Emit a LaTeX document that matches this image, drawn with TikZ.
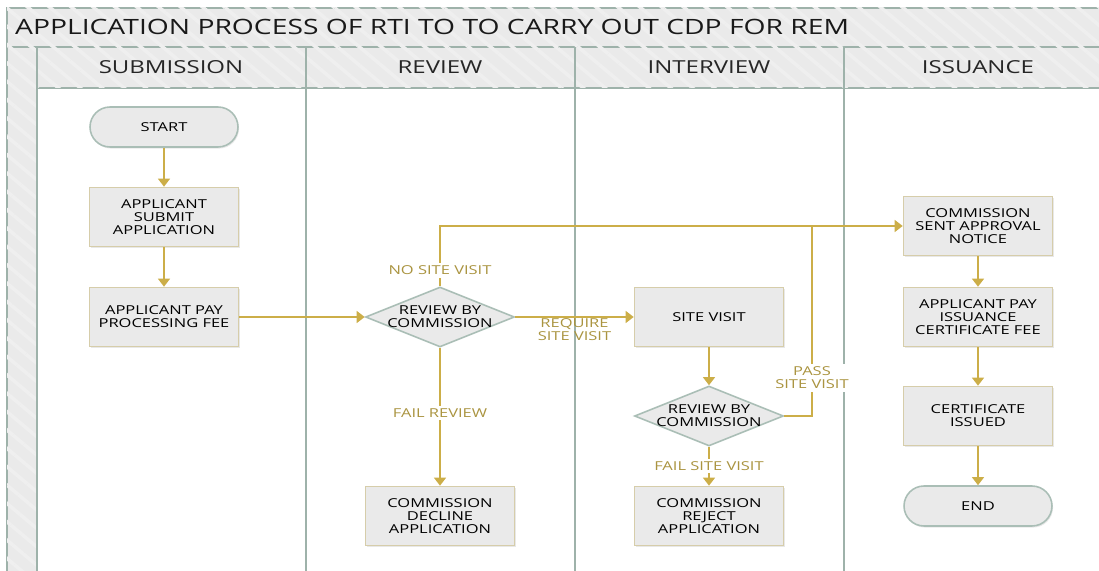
\documentclass[tikz,border=0pt]{standalone}
\usepackage{fontspec}
\setmainfont[FakeStretch=1.34]{Open Sans}
\usepackage{tikz}
\usetikzlibrary{arrows.meta, shapes.geometric, shadows, patterns.meta}

\definecolor{flowgold}{RGB}{204,174,72}
\definecolor{labelgold}{RGB}{170,148,64}
\definecolor{laneline}{RGB}{158,178,170}
\definecolor{boxfill}{RGB}{234,234,234}
\definecolor{boxedge}{RGB}{214,205,170}
\definecolor{termedge}{RGB}{170,190,182}

\begin{document}
\begin{tikzpicture}[x=0.02cm, y=-0.02cm,
    lanefill/.style={fill=boxfill, draw=laneline, line width=1pt},
    hatch/.style={pattern={Lines[angle=-40, distance=8pt, line width=2pt]}, pattern color=white!22!boxfill},
    process/.style={rectangle, draw=boxedge, line width=0.9pt, fill=boxfill,
        minimum width=2.98cm, minimum height=1.18cm, inner sep=1pt, align=center,
        font=\fontsize{7}{7.4}\selectfont, drop shadow={opacity=0.18, shadow xshift=0.6pt, shadow yshift=-0.9pt}},
    terminal/.style={rectangle, rounded corners=0.4cm, draw=termedge, line width=0.9pt, fill=boxfill,
        minimum width=2.96cm, minimum height=0.8cm, inner sep=1pt, align=center,
        font=\fontsize{7}{7.4}\selectfont, drop shadow={opacity=0.18, shadow xshift=0.6pt, shadow yshift=-0.9pt}},
    decision/.style={diamond, aspect=2.5, draw=termedge, line width=0.9pt, fill=boxfill,
        minimum width=2.98cm, minimum height=1.2cm, inner sep=-1pt, align=center,
        font=\fontsize{7}{7.4}\selectfont},
    flow/.style={draw=flowgold, line width=0.9pt, -{Triangle[width=6.8pt, length=4.6pt]}, color=flowgold},
    flowlabel/.style={fill=white, text=labelgold, inner sep=1.5pt, align=center,
        font=\fontsize{7}{7.4}\selectfont},
    lanehead/.style={font=\fontsize{10.2}{12}\selectfont, text=black!85}
]
    % Canvas
    \useasboundingbox (0,0) rectangle (1099,571);
    \clip (0,0) rectangle (1099,571);

    % Pool title, header row and left band
    \draw[lanefill] (7,8) rectangle (1120,47);
    \fill[hatch] (7,8) rectangle (1120,47);
    \draw[lanefill] (7,47) rectangle (37,590);
    \fill[hatch] (7,47) rectangle (37,590);
    \draw[lanefill] (37,47) rectangle (1120,88);
    \fill[hatch] (37,47) rectangle (1120,88);
    \node[anchor=west, font=\fontsize{12}{14}\selectfont, text=black!90] (title) at (9,27)
        {APPLICATION PROCESS OF RTI TO TO CARRY OUT CDP FOR REM};

    % Lane separators
    \draw[laneline, line width=1.2pt] (37,47) -- (37,590);
    \draw[laneline, line width=1.2pt] (306,47) -- (306,590);
    \draw[laneline, line width=1.2pt] (575,47) -- (575,590);
    \draw[laneline, line width=1.2pt] (844,47) -- (844,590);

    % Lane headers
    \node[lanehead] (hsub) at (171,67) {SUBMISSION};
    \node[lanehead] (hrev) at (440,67) {REVIEW};
    \node[lanehead] (hint) at (709,67) {INTERVIEW};
    \node[lanehead] (hiss) at (978,67) {ISSUANCE};

    % Submission lane
    \node[terminal] (start) at (164,127) {START};
    \node[process] (submit) at (164,217) {APPLICANT\\SUBMIT\\APPLICATION};
    \node[process] (payfee) at (164,317) {APPLICANT PAY\\PROCESSING FEE};

    % Review lane
    \node[decision] (review) at (440,317) {REVIEW BY\\COMMISSION};
    \node[process] (decline) at (440,516) {COMMISSION\\DECLINE\\APPLICATION};

    % Interview lane
    \node[process] (sitevisit) at (709,317) {SITE VISIT};
    \node[decision] (sitereview) at (709,416) {REVIEW BY\\COMMISSION};
    \node[process] (reject) at (709,516) {COMMISSION\\REJECT\\APPLICATION};

    % Issuance lane
    \node[process] (notice) at (978,226) {COMMISSION\\SENT APPROVAL\\NOTICE};
    \node[process] (issuefee) at (978,317) {APPLICANT PAY\\ISSUANCE\\CERTIFICATE FEE};
    \node[process] (issued) at (978,416) {CERTIFICATE\\ISSUED};
    \node[terminal] (end) at (978,506) {END};

    % Connectors
    \coordinate (join) at (812,226);
    \draw[flow] (start) -- (submit);
    \draw[flow] (submit) -- (payfee);
    \draw[flow] (payfee) -- (review);
    \draw[flow] (review.north) |- node[flowlabel, pos=0.13] {NO SITE VISIT} (notice.west);
    \draw[flow] (review.east) -- node[flowlabel, below, fill=none, yshift=1pt] {REQUIRE\\SITE VISIT} (sitevisit.west);
    \draw[flow] (review.south) -- node[flowlabel, pos=0.47] {FAIL REVIEW} (decline.north);
    \draw[flow] (sitevisit) -- (sitereview);
    \draw[flow, -] (sitereview.east) -| node[flowlabel, pos=0.6] {PASS\\SITE VISIT} (join);
    \draw[flow] (sitereview.south) -- node[flowlabel] {FAIL SITE VISIT} (reject.north);
    \draw[flow] (notice) -- (issuefee);
    \draw[flow] (issuefee) -- (issued);
    \draw[flow] (issued) -- (end);
\end{tikzpicture}
\end{document}
